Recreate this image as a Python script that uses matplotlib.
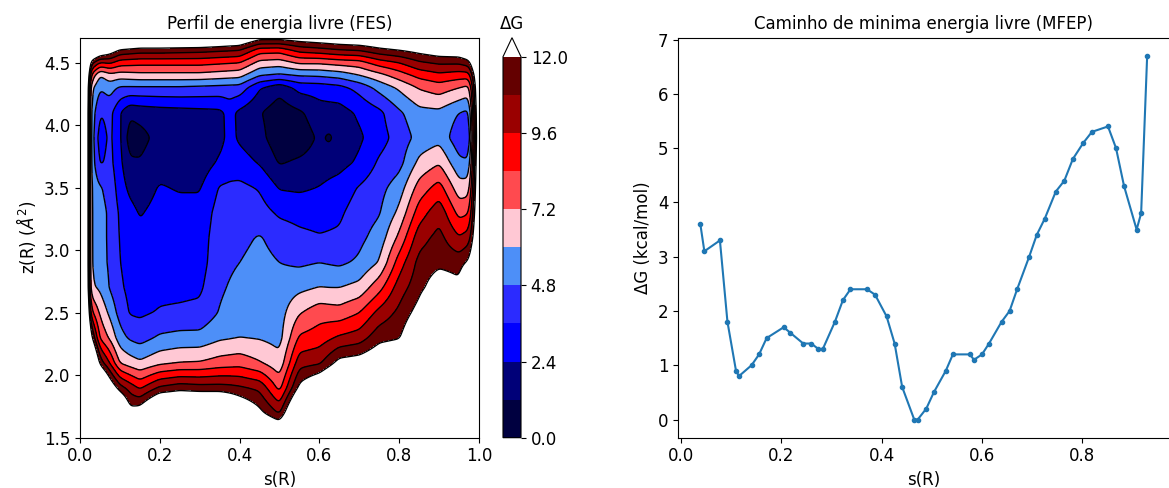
import numpy as np
import matplotlib
matplotlib.use('Agg')
import matplotlib.pyplot as plt
from matplotlib.colors import ListedColormap

# ---- minimum free energy path, dG vs s(R) ----
path_s = [0.039, 0.047, 0.078, 0.093, 0.110, 0.116, 0.141, 0.156, 0.171, 0.205,
          0.218, 0.244, 0.260, 0.274, 0.283, 0.307, 0.323, 0.338, 0.371, 0.387,
          0.410, 0.426, 0.441, 0.465, 0.472, 0.489, 0.504, 0.528, 0.542, 0.576,
          0.584, 0.600, 0.614, 0.639, 0.655, 0.670, 0.694, 0.709, 0.725, 0.747,
          0.764, 0.781, 0.802, 0.819, 0.851, 0.867, 0.883, 0.908, 0.917, 0.929]
path_dg = [3.6, 3.1, 3.3, 1.8, 0.9, 0.8, 1.0, 1.2, 1.5, 1.7,
           1.6, 1.4, 1.4, 1.3, 1.3, 1.8, 2.2, 2.4, 2.4, 2.3,
           1.9, 1.4, 0.6, 0.0, 0.0, 0.2, 0.5, 0.9, 1.2, 1.2,
           1.1, 1.2, 1.4, 1.8, 2.0, 2.4, 3.0, 3.4, 3.7, 4.2,
           4.4, 4.8, 5.1, 5.3, 5.4, 5.0, 4.3, 3.5, 3.8, 6.7]

# ---- FES on a coarse (s, z) grid, kcal/mol; one list per s node, z ascending ----
fes_s = [0.0, 0.025, 0.05, 0.075, 0.1, 0.125, 0.15, 0.2, 0.25, 0.3, 0.35, 0.375,
         0.4, 0.45, 0.5, 0.55, 0.6, 0.625, 0.65, 0.7, 0.75, 0.8, 0.85, 0.9, 0.95,
         0.975, 1.0]
fes_z = [1.5, 1.7, 1.9, 2.1, 2.3, 2.5, 2.7, 2.9, 3.1, 3.3,
         3.5, 3.7, 3.9, 4.1, 4.3, 4.4, 4.5, 4.6, 4.7]
fes_dg = [
    [35, 35, 35, 35, 35, 35, 35, 35, 35, 35, 35, 35, 35, 35, 35, 35, 35, 35, 35],
    [25, 25, 22, 18, 13, 9.0, 6.3, 6.0, 6.0, 6.0, 6.0, 6.0, 6.0, 6.0, 6.6, 8.5, 11.5, 16, 22],
    [25, 22, 17, 11.5, 8.2, 7.0, 5.8, 5.3, 5.2, 5.2, 4.9, 3.4, 2.9, 3.6, 4.9, 6.0, 9.5, 14, 20],
    [24, 19, 13.5, 9.5, 7.0, 5.7, 4.7, 4.6, 4.6, 4.6, 4.4, 4.0, 3.9, 4.0, 5.3, 6.8, 9.8, 13, 18],
    [22, 16, 11.3, 7.1, 5.3, 4.3, 3.8, 3.6, 3.5, 3.4, 3.0, 2.7, 2.6, 2.5, 4.6, 6.6, 9.0, 11.8, 16],
    [18, 12.6, 10.3, 6.6, 4.6, 3.5, 3.3, 3.2, 3.1, 2.8, 2.1, 1.4, 0.6, 1.4, 4.6, 6.7, 8.9, 11.6, 15.5],
    [18, 13.0, 9.4, 6.2, 4.3, 3.4, 3.1, 2.9, 2.7, 2.3, 1.8, 1.3, 0.8, 1.6, 4.6, 6.8, 8.8, 11.4, 15],
    [20, 16, 11.0, 6.9, 5.0, 3.7, 3.3, 3.0, 2.9, 2.8, 2.5, 1.9, 1.6, 1.8, 4.6, 6.8, 8.8, 11.4, 15],
    [20, 16, 11.5, 7.2, 5.2, 3.8, 3.3, 3.0, 2.9, 2.8, 2.3, 1.8, 1.6, 1.9, 4.6, 6.8, 8.8, 11.3, 15],
    [20, 16, 11.3, 7.3, 5.2, 3.9, 3.4, 3.1, 3.0, 2.8, 2.3, 1.7, 1.5, 2.0, 4.5, 6.8, 8.8, 11.2, 15],
    [20, 16, 11.3, 7.7, 5.8, 4.9, 4.6, 4.4, 4.3, 4.1, 3.7, 2.6, 2.0, 2.1, 4.4, 6.6, 8.6, 11.0, 14.5],
    [19, 15, 11.2, 7.8, 5.9, 5.2, 4.9, 4.6, 4.4, 4.15, 3.8, 3.0, 2.8, 2.8, 4.35, 6.5, 8.5, 10.9, 14.2],
    [18, 14, 11.0, 7.9, 6.0, 5.4, 5.2, 4.8, 4.5, 4.2, 3.9, 2.9, 2.2, 2.1, 4.3, 6.4, 8.4, 10.8, 14],
    [16, 12.4, 10.5, 7.3, 5.9, 5.5, 5.4, 5.2, 4.9, 4.1, 3.5, 2.3, 1.6, 1.3, 2.5, 4.9, 6.8, 9.0, 12.6],
    [15, 10.6, 8.0, 6.4, 5.6, 5.5, 5.3, 4.8, 4.3, 3.4, 2.3, 1.1, 0.4, 0.5, 1.6, 4.6, 6.6, 8.9, 12.6],
    [20, 16, 12.4, 10.3, 8.6, 7.1, 5.7, 4.6, 3.9, 3.2, 2.2, 1.4, 0.5, 1.0, 2.8, 4.9, 7.4, 10.0, 12.9],
    [22, 18, 14, 10.6, 9.0, 7.9, 6.05, 4.8, 3.7, 3.1, 2.45, 1.7, 1.4, 1.9, 2.9, 5.0, 7.4, 10.3, 13.2],
    [22, 19, 15, 11.5, 9.4, 7.8, 6.0, 4.7, 3.75, 3.25, 2.7, 1.85, 1.0, 1.9, 3.05, 5.15, 7.55, 10.5, 13.35],
    [22, 20, 16, 12.5, 9.8, 7.7, 6.0, 4.6, 3.8, 3.4, 2.9, 2.0, 1.7, 1.9, 3.2, 5.3, 7.7, 10.7, 13.5],
    [22, 20, 17, 12.8, 10.2, 8.4, 6.4, 5.0, 4.5, 4.2, 3.7, 2.6, 2.2, 2.6, 4.0, 6.0, 7.9, 10.9, 13.7],
    [23, 21, 18, 13.5, 11.6, 10.0, 8.0, 6.1, 5.3, 4.7, 4.4, 3.8, 3.1, 3.3, 5.2, 6.8, 9.0, 11.6, 14],
    [23, 20, 17, 14, 11.9, 11.1, 10.2, 9.0, 7.5, 6.3, 5.4, 4.4, 4.1, 4.6, 6.2, 7.8, 9.6, 12.0, 14.5],
    [23, 21, 19, 17, 14, 12.6, 11.6, 11.2, 10.3, 9.0, 7.7, 6.3, 5.2, 5.6, 7.3, 8.8, 10.6, 12.5, 15],
    [24, 23, 22, 20, 18, 16, 13, 11.7, 11.2, 10.4, 8.9, 7.1, 5.6, 5.7, 7.8, 9.3, 11.0, 13, 15.5],
    [25, 24, 23, 22, 20, 16, 12.4, 11.5, 9.7, 8.0, 6.5, 5.1, 4.0, 4.8, 7.2, 9.0, 11.0, 13.2, 16],
    [25, 25, 24, 23, 21, 18, 15, 12.3, 10.2, 8.3, 6.6, 5.0, 3.55, 4.5, 6.8, 9.0, 11.5, 14, 17],
    [25, 25, 25, 24, 22, 20, 18, 16, 15, 15, 15, 15, 15, 15, 15, 15, 16, 18, 20],
]

fes_levels = np.linspace(0, 12, 11)
fes_colors = ['#000040', '#000078', '#0000ff', '#2b2bff', '#4d8ff8',
              '#ffc8d4', '#ff4a4f', '#ff0000', '#9a0000', '#640000']
cbar_ticks = [0.0, 2.4, 4.8, 7.2, 9.6, 12.0]


def smooth(a, sigma, axis):
    r = int(3 * sigma)
    k = np.exp(-0.5 * (np.arange(-r, r + 1) / sigma) ** 2)
    k /= k.sum()
    pad = [(0, 0), (0, 0)]
    pad[axis] = (r, r)
    a = np.pad(a, pad, mode='edge')
    return np.apply_along_axis(lambda v: np.convolve(v, k, mode='valid'), axis, a)


# refine the coarse table onto a fine mesh (bilinear) and soften the kinks a bit
grid = np.array(fes_dg, dtype=float).T          # (nz, ns)
s_fine = np.linspace(0, 1, 401)
z_fine = np.linspace(1.5, 4.7, 321)
tmp = np.array([np.interp(s_fine, fes_s, row) for row in grid])
field = np.array([np.interp(z_fine, fes_z, col) for col in tmp.T]).T
field = smooth(smooth(field, 2.0, 1), 1.5, 0)

cmap = ListedColormap(fes_colors)
cmap.set_over('white')

fig = plt.figure(figsize=(11.69, 4.88), dpi=100)
W, H = 1169.0, 488.0

ax1 = fig.add_axes([80 / W, 50.3 / H, 399 / W, 400 / H])
cs = ax1.contourf(s_fine, z_fine, field, levels=fes_levels, cmap=cmap, extend='max')
ax1.contour(s_fine, z_fine, field, levels=fes_levels, colors='black', linewidths=1.0)
ax1.set_xlim(0, 1)
ax1.set_ylim(1.5, 4.7)
ax1.set_xticks([0.0, 0.2, 0.4, 0.6, 0.8, 1.0])
ax1.set_yticks([1.5, 2.0, 2.5, 3.0, 3.5, 4.0, 4.5])
ax1.set_title('Perfil de energia livre (FES)', fontsize=12)
ax1.set_xlabel('s(R)', fontsize=12)
ax1.set_ylabel(r'z(R) ($\AA^2$)', fontsize=12)
ax1.tick_params(labelsize=12)

cax = fig.add_axes([503 / W, 50.3 / H, 18 / W, 400 / H])
cb = fig.colorbar(cs, cax=cax, ticks=cbar_ticks, format='%.1f')
cb.ax.tick_params(labelsize=12)
cb.ax.set_title('ΔG', fontsize=12)

ax2 = fig.add_axes([678 / W, 50.3 / H, 491.5 / W, 400 / H])
ax2.plot(path_s, path_dg, marker='.', color='#1f77b4', linewidth=1.5)
ax2.set_title('Caminho de minima energia livre (MFEP)', fontsize=12)
ax2.set_xlabel('s(R)', fontsize=12)
ax2.set_ylabel('ΔG (kcal/mol)', fontsize=12)
ax2.tick_params(labelsize=12)

fig.savefig('out.png', dpi=100)
